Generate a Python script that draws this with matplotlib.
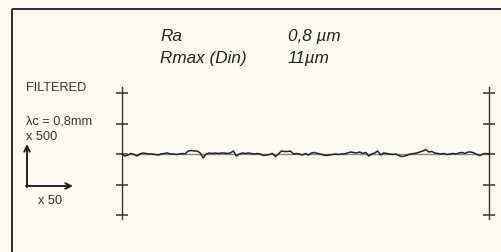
import matplotlib
matplotlib.use("Agg")
import matplotlib.pyplot as plt
import numpy as np

# ---- data ----
roughness_labels = ["Ra", "Rmax (Din)"]
roughness_values = ["0,8 µm", "11µm"]
filter_texts = ["FILTERED", "λc = 0,8mm", "x 500"]
horiz_mag = "x 50"

# profile heights (arbitrary chart units, up positive), sampled every 3 units along the trace
profile = [0, -2, -1, 0.5, -0.5, -2, 0, 1, 0.5, 0, 0, -0.5, -1, 0, 0.5, 1, 0, 0, -0.5, 0,
           0.5, 0, 3, 3.5, 3, 3, 1, -4, 0, 1, 0.5, 1, 0.5, 1, 1, 0.5, 1, 3, -2, 0,
           1, 0.5, 1, 0.5, 0, 0.5, 0, -1.5, -1, -0.5, 0.5, -2.5, 0, 3, 2.5, 2.5, 3, 0, 0.5, 0,
           -1, 0.5, -1, 1, 1.5, 0.5, 0, -1, -1.5, -1, -0.5, 0, -0.5, 0, 0, 1, 2, 1.5, 1, 2,
           0.5, 1.5, -2, 0, 1, 3, -1, 1, 0.5, 0, -0.5, 0, -1.5, -2.5, -2, -1, 0, 0.5, 1, 2,
           3, 4.5, 2, 2.5, 1, 0.5, 0, 0.5, -0.5, 0, 0.5, 0, 1, 1.5, 0.5, 2, 2, 1, -0.5, -1.5,
           0, 0.5, 0]
profile_x = [3 * i for i in range(len(profile))]
tick_levels = [-61, -30.5, 0, 30.5, 61]

W, H = 501, 253
fig = plt.figure(figsize=(W / 100, H / 100), dpi=100)
fig.patch.set_facecolor("#fdfbf1")

# background overlay axes in pixel coords (top-origin)
bg = fig.add_axes([0, 0, 1, 1])
bg.set_xlim(0, W)
bg.set_ylim(H, 0)
bg.axis("off")
bg.plot([12, 12], [10, H], color="#1e1e1e", lw=1.3, solid_capstyle="butt")
bg.plot([12, W], [10, 10], color="#1e1e1e", lw=1.3, solid_capstyle="butt")

fam = ["Liberation Sans", "DejaVu Sans"]
for lab, val, y in zip(roughness_labels, roughness_values, [36, 58]):
    bg.text(160, y, lab, fontsize=12.3, style="italic", family=fam, va="center", ha="left", color="#222")
    bg.text(288, y, val, fontsize=12.3, style="italic", family=fam, va="center", ha="left", color="#222")

for t, y in zip(filter_texts, [88, 122, 137]):
    bg.text(26, y, t, fontsize=9.2, family=fam, va="center", ha="left", color="#333")
bg.text(38, 201, horiz_mag, fontsize=9.2, family=fam, va="center", ha="left", color="#333")

bg.annotate("", xy=(27, 145), xytext=(27, 188),
            arrowprops=dict(arrowstyle="->", color="#222", lw=1.4, shrinkA=0, shrinkB=0))
bg.annotate("", xy=(73, 187), xytext=(26, 187),
            arrowprops=dict(arrowstyle="->", color="#222", lw=1.4, shrinkA=0, shrinkB=0))

# profile axes
x0, x1 = 122, 489
ytop, ybot = 88, 220
ax = fig.add_axes([x0 / W, 1 - ybot / H, (x1 - x0) / W, (ybot - ytop) / H])
ax.set_xlim(0, profile_x[-1])
ax.set_ylim(-(ybot - 155), 155 - ytop)
ax.axis("off")
ax.patch.set_alpha(0)

for xa in (0, profile_x[-1]):
    ax.plot([xa, xa], [-(ybot - 155), 155 - ytop], color="#333", lw=1.0, clip_on=False)
    ax.plot([xa] * len(tick_levels), tick_levels, ls="none", marker="_", ms=9,
            mew=1.1, color="#333", clip_on=False)

ax.axhline(0, color="#888", lw=1.0)
ax.plot(profile_x, profile, color="#222", lw=1.1, clip_on=False)

fig.savefig("out.png", dpi=100, facecolor=fig.get_facecolor())
